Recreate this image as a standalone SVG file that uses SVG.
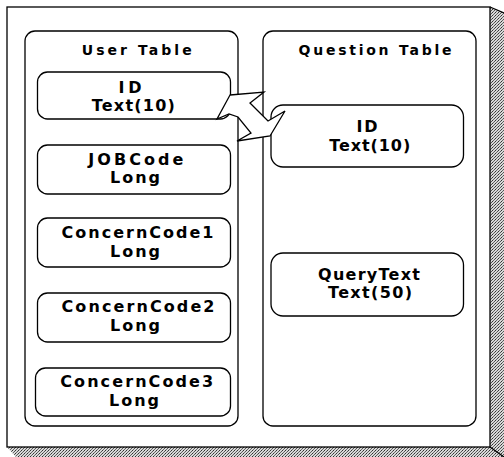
<svg xmlns="http://www.w3.org/2000/svg" width="504" height="457" viewBox="0 0 504 457">
  <style>
    .ln { fill: none; stroke: #000; stroke-width: 1.3; }
    .box { fill: #fff; stroke: #000; stroke-width: 1.3; }
    .ttl { font-family: "DejaVu Sans", "Liberation Sans", sans-serif; font-size: 14px; font-weight: bold; text-anchor: middle; fill: #000; }
    .fld { font-family: "DejaVu Sans", "Liberation Sans", sans-serif; font-size: 16px; font-weight: bold; text-anchor: middle; fill: #000; }
  </style>
  <defs>
    <pattern id="stip" width="3" height="3" patternUnits="userSpaceOnUse">
      <rect width="3" height="3" fill="#d8d8d8"/>
      <rect x="0" y="0" width="1" height="1" fill="#333"/>
      <rect x="2" y="1" width="1" height="1" fill="#555"/>
      <rect x="1" y="2" width="1" height="1" fill="#666"/>
    </pattern>
  </defs>
  <rect width="504" height="457" fill="#fff"/>
  <g id="frame">
    <polygon points="490,7 504,13 504,457 16,457 7,447 490,447" fill="url(#stip)"/>
    <rect x="7" y="7" width="483" height="440" class="box"/>
    <line x1="490" y1="447" x2="504" y2="457" class="ln"/>
    <line x1="490" y1="7" x2="504" y2="13" class="ln" stroke-width="0.8"/>
  </g>
  <g id="user-table">
    <rect x="25" y="31" width="213" height="395" rx="10" class="box"/>
    <text x="136.7" y="55" class="ttl" textLength="110" lengthAdjust="spacing">User Table</text>
  </g>
  <g id="question-table">
    <rect x="263" y="31" width="213" height="395" rx="10" class="box"/>
    <text x="375" y="55" class="ttl" textLength="153" lengthAdjust="spacing">Question Table</text>
  </g>
  <g id="user-id">
    <rect x="37.5" y="72" width="193" height="47" rx="10" class="box"/>
    <text x="130" y="93" class="fld" textLength="23" lengthAdjust="spacing">ID</text>
    <text x="133.3" y="111" class="fld" textLength="83" lengthAdjust="spacing">Text(10)</text>
  </g>
  <g id="user-jobcode">
    <rect x="37.5" y="145" width="193" height="49" rx="10" class="box"/>
    <text x="135.8" y="165" class="fld" textLength="95" lengthAdjust="spacing">JOBCode</text>
    <text x="135" y="183" class="fld" textLength="50" lengthAdjust="spacing">Long</text>
  </g>
  <g id="user-concerncode1">
    <rect x="37.5" y="218" width="193" height="49" rx="10" class="box"/>
    <text x="137.5" y="238" class="fld" textLength="152" lengthAdjust="spacing">ConcernCode1</text>
    <text x="135" y="256.5" class="fld" textLength="50" lengthAdjust="spacing">Long</text>
  </g>
  <g id="user-concerncode2">
    <rect x="37.5" y="293" width="193" height="49" rx="10" class="box"/>
    <text x="138" y="312" class="fld" textLength="153" lengthAdjust="spacing">ConcernCode2</text>
    <text x="135" y="330.5" class="fld" textLength="50" lengthAdjust="spacing">Long</text>
  </g>
  <g id="user-concerncode3">
    <rect x="35.5" y="368" width="195" height="48" rx="10" class="box"/>
    <text x="136.7" y="387" class="fld" textLength="153" lengthAdjust="spacing">ConcernCode3</text>
    <text x="134" y="406" class="fld" textLength="50" lengthAdjust="spacing">Long</text>
  </g>
  <g id="question-id">
    <rect x="271" y="105" width="192.5" height="62" rx="12" class="box"/>
    <text x="367" y="132" class="fld" textLength="21" lengthAdjust="spacing">ID</text>
    <text x="369.7" y="151" class="fld" textLength="81" lengthAdjust="spacing">Text(10)</text>
  </g>
  <g id="question-querytext">
    <rect x="271" y="253" width="192.5" height="63" rx="12" class="box"/>
    <text x="369" y="279.5" class="fld" textLength="102" lengthAdjust="spacing">QueryText</text>
    <text x="370" y="298" class="fld" textLength="84" lengthAdjust="spacing">Text(50)</text>
  </g>
  <g id="connectors">
    <polygon points="230,95 264,92 250,103 268,121 285,111 270,136 237,141 251,133 238,117 229,114 217,119" fill="#fff" stroke="#000" stroke-width="1.3" stroke-linejoin="miter"/>
  </g>
</svg>
